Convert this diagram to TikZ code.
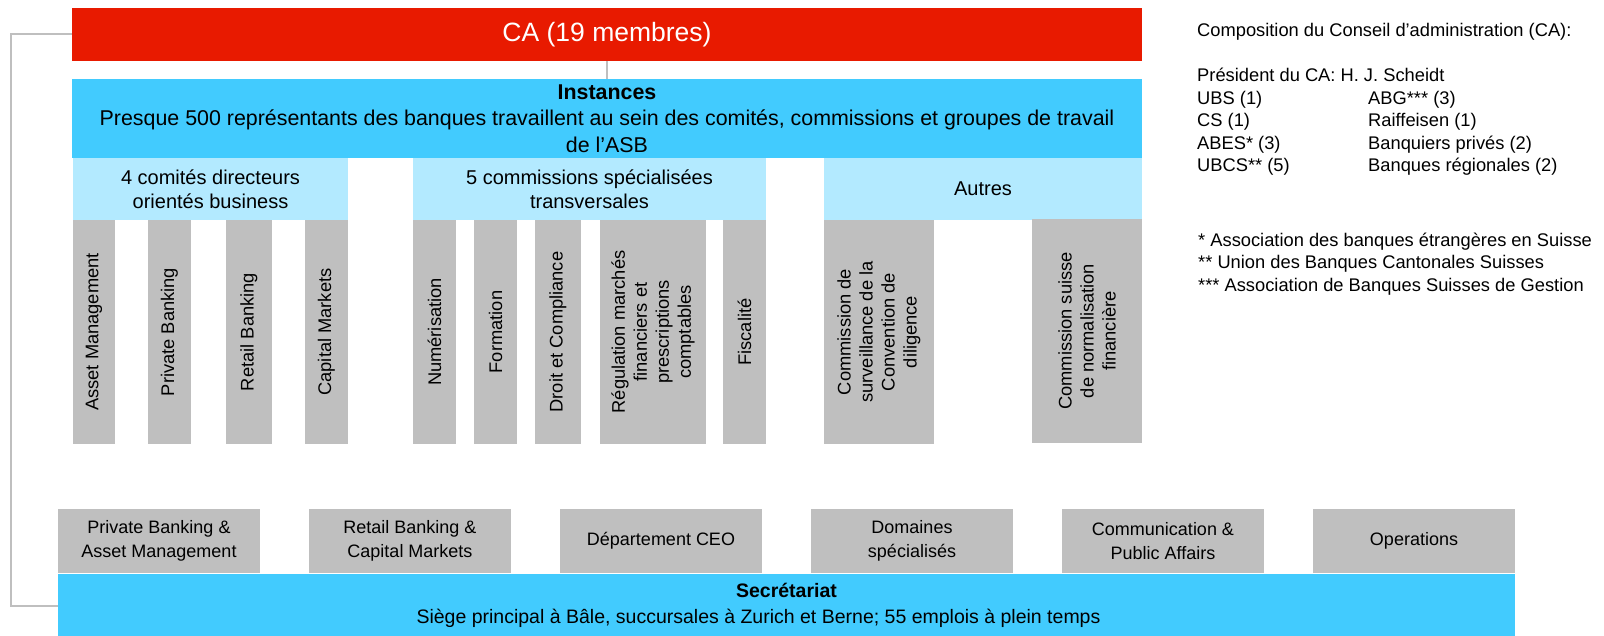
\documentclass[tikz,border=0pt]{standalone}
\usepackage{fontspec}
\setmainfont{Liberation Sans}
\usetikzlibrary{positioning}

\definecolor{careed}{RGB}{232,26,0}
\definecolor{asbblue}{RGB}{66,203,254}
\definecolor{asblight}{RGB}{179,234,255}
\definecolor{unitgrey}{RGB}{191,191,191}

\begin{document}
\begin{tikzpicture}[
    x=1pt, y=-1pt, % one unit = one pixel of the layout, y downwards
    % --- STYLES ---
    box/.style={inner sep=0pt, outer sep=0pt, align=center},
    board/.style={box, fill=careed, text=white, minimum width=1070pt, minimum height=53pt, font=\fontsize{26.5}{30}\selectfont},
    panel/.style={box, fill=asbblue, font=\fontsize{21.4}{26.5}\selectfont},
    group/.style={box, fill=asblight, minimum height=62pt, font=\fontsize{20}{24}\selectfont},
    unit/.style={box, fill=unitgrey, rotate=90, minimum width=224pt, font=\fontsize{18.3}{22}\selectfont},
    dept/.style={box, fill=unitgrey, minimum width=202pt, minimum height=64pt, font=\fontsize{18}{23.5}\selectfont},
    note/.style={inner sep=0pt, anchor=north west, font=\fontsize{18.3}{22.6}\selectfont},
    link/.style={draw=unitgrey, line width=2pt}
]
\useasboundingbox (0,0) rectangle (1604,636);

% --- BOARD ---
\node (ca) [board] at (607,34.5) {CA (19 membres)};
\node (instances) [panel, minimum width=1070pt, minimum height=79pt, below=18pt of ca]
  {\textbf{Instances}\\Presque 500 représentants des banques travaillent au sein des comités, commissions et groupes de travail\\de l’ASB};

% --- GROUP HEADERS ---
\node (business) [group, minimum width=275pt] at (210.5,189) {4 comités directeurs\\orientés business};
\node (transverse) [group, minimum width=353pt] at (589.5,189) {5 commissions spécialisées\\transversales};
\node (others) [group, minimum width=318pt] at (983,189) {Autres};

% --- COMMITTEES ---
\node (asset) [unit, minimum height=42pt] at (94,332) {Asset Management};
\node (private) [unit, minimum height=43pt] at (169.5,332) {Private Banking};
\node (retail) [unit, minimum height=46pt] at (249,332) {Retail Banking};
\node (capital) [unit, minimum height=43pt] at (326.5,332) {Capital Markets};
\node (digital) [unit, minimum height=43pt] at (434.5,332) {Numérisation};
\node (training) [unit, minimum height=43pt] at (495.5,332) {Formation};
\node (law) [unit, minimum height=46pt] at (558,332) {Droit et Compliance};
\node (regulation) [unit, minimum height=106pt] at (653,332) {Régulation marchés\\financiers et\\prescriptions\\comptables};
\node (tax) [unit, minimum height=43pt] at (744.5,332) {Fiscalité};
\node (diligence) [unit, minimum height=110pt] at (879,332) {Commission de\\surveillance de la\\Convention de\\diligence};
\node (standards) [unit, minimum height=110pt] at (1087,331) {Commission suisse\\de normalisation\\financière};

% --- SECRETARIAT ---
\node (pbam) [dept] at (159,541) {Private Banking \&\\Asset Management};
\node (rbcm) [dept] at (410,541) {Retail Banking \&\\Capital Markets};
\node (ceo) [dept] at (661,541) {Département CEO};
\node (fields) [dept] at (912,541) {Domaines\\spécialisés};
\node (comm) [dept] at (1163,541) {Communication \&\\Public Affairs};
\node (ops) [dept] at (1414,541) {Operations};
\node (secretariat) [panel, minimum width=1457pt, minimum height=63pt, font=\fontsize{19.5}{26}\selectfont] at (786.5,605.5)
  {\textbf{Secrétariat}\\Siège principal à Bâle, succursales à Zurich et Berne; 55 emplois à plein temps\hspace*{56pt}};

% --- BOARD COMPOSITION ---
\node (composition) [note] at (1197,20.2) {%
  \begin{tabular}{@{}p{171pt}@{}l@{}}
  \multicolumn{2}{@{}l@{}}{Composition du Conseil d’administration (CA):}\\
  \\
  \multicolumn{2}{@{}l@{}}{Président du CA: H. J. Scheidt}\\
  UBS (1) & ABG*** (3)\\
  CS (1) & Raiffeisen (1)\\
  ABES* (3) & Banquiers privés (2)\\
  UBCS** (5) & Banques régionales (2)
  \end{tabular}};
\node (footnotes) [note] at (1198,230.2) {%
  \begin{tabular}{@{}l@{}}
  {*} Association des banques étrangères en Suisse\\
  {**} Union des Banques Cantonales Suisses\\
  {***} Association de Banques Suisses de Gestion
  \end{tabular}};

% --- CONNECTORS ---
\coordinate (rail) at (11,34.5);
\draw [link] (ca) -- (instances);
\draw [link] (ca.west) -- (rail) |- (secretariat.west);

\end{tikzpicture}
\end{document}
